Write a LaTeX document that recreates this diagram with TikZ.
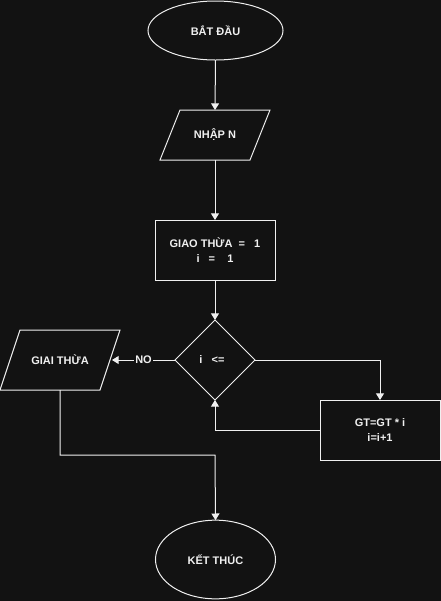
\documentclass[tikz,border=0pt]{standalone}
\usepackage{fontspec}
\setmainfont{Liberation Sans}
\usetikzlibrary{shapes.geometric,arrows.meta}
\definecolor{bg}{HTML}{121212}
\definecolor{fg}{HTML}{F0F0F0}
\begin{document}
\begin{tikzpicture}[x=0.75pt,y=-0.75pt,
  every node/.style={text=fg,font=\fontsize{8.25pt}{10pt}\selectfont\bfseries,inner sep=0pt,outer sep=0pt},
  shp/.style={draw=fg,line width=0.75pt,fill=bg},
  term/.style={shp,ellipse},
  box/.style={shp,rectangle},
  lnk/.style={draw=fg,line width=0.75pt},
  arr/.style={lnk,-{Triangle[open,length=5pt,width=6pt,fill=fg]}}]
\fill[bg] (0,0) rectangle (441,601);
\useasboundingbox (0,0) rectangle (441,601);
% start
\node[term,minimum width=101.25pt,minimum height=44.25pt] (start) at (215.5,30.5) {BẮT ĐẦU};
% input parallelogram
\path[shp] (180,110) -- (270,110) -- (250,160) -- (160,160) -- cycle;
\node[minimum width=82.5pt,minimum height=37.5pt] (inp) at (215,135) {NHẬP N};
% init box
\node[box,minimum width=90pt,minimum height=45pt,align=center] (init) at (215,250) {GIAO THỪA \ = \ \ 1\\[1pt]i \ \ = \ \ \ 1};
% decision
\node[shp,diamond,minimum width=60pt,minimum height=60pt,aspect=1] (dec) at (215,360) {};
\node (dectxt) at (212,360) {i \ \ <=};
% output parallelogram
\path[shp] (20,330) -- (120,330) -- (100,390) -- (0,390) -- cycle;
\node[minimum width=75pt,minimum height=45pt] (outp) at (60,360) {GIAI THỪA};
% loop box
\node[box,minimum width=90pt,minimum height=45pt,align=center] (loop) at (380,430) {GT=GT * i\\[1pt]i=i+1};
% end
\node[term,minimum width=90pt,minimum height=59pt] (stop) at (215.5,559.5) {KẾT THÚC};
% helper coordinates
\coordinate (inpT) at (215,110);
\coordinate (inpB) at (215,160);
\coordinate (outR) at (112,360);
\coordinate (outB) at (60,390);
\coordinate (r1) at (380,360);
\coordinate (l1) at (215,430);
\coordinate (o1) at (60,455);
\coordinate (o2) at (215,455);
% connectors
\draw[arr] (start.south) -- (inpT);
\draw[arr] (inpB) -- (init.north);
\draw[arr] (init.south) -- (dec.north);
\draw[arr] (dec.west) -- node[fill=bg,inner sep=1pt] (no) {NO} (outR);
\draw[arr] (dec.east) -- (r1) -- (loop.north);
\draw[arr] (loop.west) -- (l1) -- (dec.south);
\draw[arr] (outB) -- (o1) -- (o2) -- (stop.north);
\end{tikzpicture}
\end{document}
